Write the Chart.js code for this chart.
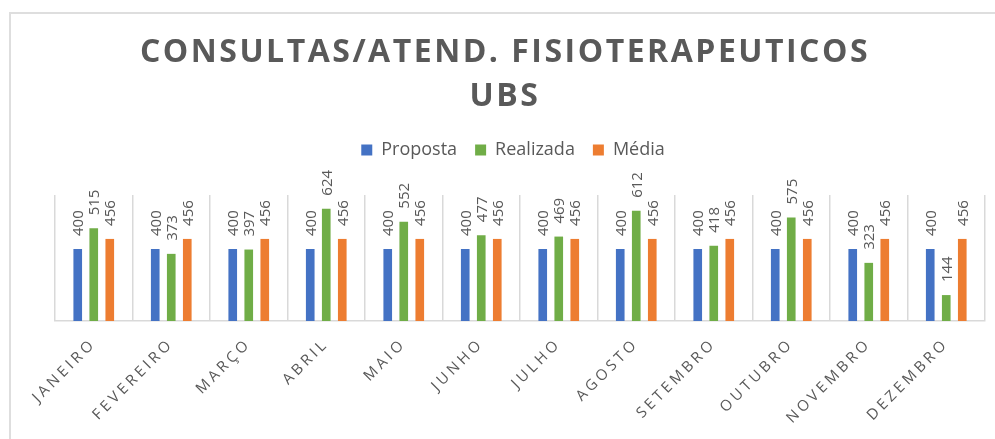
<!DOCTYPE html>
<html>
<head>
<meta charset="utf-8">
<script src="https://cdn.jsdelivr.net/npm/chart.js@4"></script>
<style>
  body { margin: 0; background: #fff; overflow: hidden; }
  #moldura { position: absolute; left: 9px; top: 12px; width: 1000px; height: 500px; border-left: 2px solid #dedede; border-top: 2px solid #dedede; }
  #myChart { position: absolute; left: 0; top: 0; }
</style>
</head>
<body>
<div id="moldura"></div>
<canvas id="myChart" width="995" height="439"></canvas>
<script>
// DADOS
const meses = ['JANEIRO', 'FEVEREIRO', 'MARÇO', 'ABRIL', 'MAIO', 'JUNHO', 'JULHO', 'AGOSTO', 'SETEMBRO', 'OUTUBRO', 'NOVEMBRO', 'DEZEMBRO'];
const proposta = [400, 400, 400, 400, 400, 400, 400, 400, 400, 400, 400, 400];
const realizada = [515, 373, 397, 624, 552, 477, 469, 612, 418, 575, 323, 144];
const media = [456, 456, 456, 456, 456, 456, 456, 456, 456, 456, 456, 456];

const cinza = '#595959';
const ctx = document.getElementById('myChart');

// rotulos de dados girados em cima das barras
const rotulos = {
    id: 'rotulos',
    afterDatasetsDraw(chart) {
        const c = chart.ctx;
        c.save();
        c.letterSpacing = '0px';
        c.font = '15px "Open Sans"';
        c.fillStyle = cinza;
        c.textAlign = 'left';
        c.textBaseline = 'alphabetic';
        chart.data.datasets.forEach((ds, i) => {
            chart.getDatasetMeta(i).data.forEach((barra, j) => {
                c.save();
                c.translate(barra.x, barra.y - 13);
                c.rotate(-Math.PI / 2);
                c.fillText(ds.data[j], 0, 5.3);
                c.restore();
            });
        });
        c.restore();
    }
};

// espacamento de letras (titulo e meses) e espaco abaixo da legenda
const espaco = {
    id: 'espaco',
    afterInit(chart) {
        const t = chart.titleBlock;
        const tDraw = t.draw.bind(t);
        t.draw = (...a) => { chart.ctx.save(); chart.ctx.letterSpacing = '2.5px'; tDraw(...a); chart.ctx.restore(); };
        const lg = chart.legend;
        const lDraw = lg.draw.bind(lg);
        lg.draw = (...a) => {
            chart.ctx.save();
            chart.ctx.letterSpacing = '0px';
            chart.ctx.translate(8, 0);
            lDraw(...a);
            chart.ctx.restore();
        };
        const lFit = lg.fit.bind(lg);
        lg.fit = () => { lFit(); lg.height += 26; };
    },
    beforeDraw(chart) { chart.ctx.letterSpacing = '3.5px'; },
    afterDraw(chart) { chart.ctx.letterSpacing = '0px'; }
};

const myChart = new Chart(ctx, {
    type: 'bar',
    data: {
        labels: meses,
        datasets: [
            { label: 'Proposta', data: proposta, backgroundColor: '#4472C4' },
            { label: 'Realizada', data: realizada, backgroundColor: '#70AD47' },
            { label: 'Média', data: media, backgroundColor: '#ED7D31' }
        ]
    },
    options: {
        responsive: false,
        animation: false,
        devicePixelRatio: 1,
        datasets: { bar: { categoryPercentage: 0.62, barPercentage: 0.54 } },
        layout: { padding: { left: 25, right: 10, top: 0, bottom: 0 } },
        plugins: {
            title: {
                display: true,
                text: ['CONSULTAS/ATEND. FISIOTERAPEUTICOS', 'UBS'],
                color: cinza,
                font: { family: 'Open Sans', weight: 'bold', size: 32, lineHeight: 1.375 },
                padding: { top: 31, bottom: 4 }
            },
            legend: {
                labels: {
                    color: cinza,
                    font: { family: 'Open Sans', size: 18 },
                    boxWidth: 11,
                    boxHeight: 11,
                    padding: 18
                }
            },
            tooltip: { enabled: false }
        },
        scales: {
            x: {
                grid: { color: '#d9d9d9', lineWidth: 1.5, drawTicks: false },
                border: { color: '#d9d9d9', width: 1.5 },
                ticks: {
                    color: cinza,
                    font: { family: 'Open Sans', size: 15 },
                    maxRotation: 45,
                    minRotation: 45,
                    autoSkip: false,
                    padding: 14
                },
                afterFit: (s) => { s.height = 118; }
            },
            y: {
                min: 0,
                max: 700,
                ticks: { display: false },
                grid: { display: false },
                border: { display: false },
                afterFit: (s) => { s.width = 30; }
            }
        }
    },
    plugins: [rotulos, espaco]
});
</script>
</body>
</html>
